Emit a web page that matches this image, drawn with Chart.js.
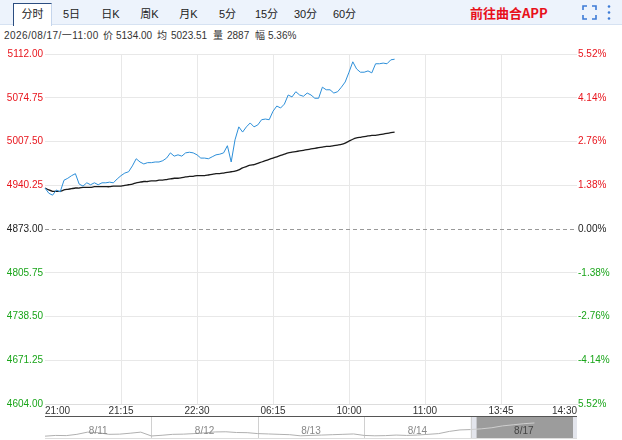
<!DOCTYPE html>
<html>
<head>
<meta charset="utf-8">
<script src="https://cdn.jsdelivr.net/npm/chart.js@4"></script>
<style>
  body { margin: 0; width: 622px; height: 440px; overflow: hidden; background: #fff;
         font-family: Arial, "Liberation Sans", "Noto Sans CJK SC", sans-serif; }
  #bar { position: absolute; left: 0; top: 0; width: 622px; height: 24px; background: #edf3fc;
         border-bottom: 1px solid #d6e2f2; }
  .tab { position: absolute; top: 3px; width: 39px; height: 22px; line-height: 22px; text-align: center;
         font-size: 11px; color: #222; }
  .tab.on { background: #fff; border: 1px solid #c5d5ec; border-top-color: #2b4d80; border-left-color: #2b4d80;
            border-bottom: none; box-sizing: border-box; height: 23px; line-height: 21px; }
  #app { position: absolute; left: 470px; top: 4px; font-size: 13px; font-weight: bold; color: #e8101a;
         font-family: "Noto Sans CJK SC", Arial, sans-serif; line-height: 18px; }
  #info span { position: absolute; top: 29px; font-size: 10px; line-height: 14px; color: #333; white-space: nowrap; }
  #main { position: absolute; left: 0; top: 44px; }
  #nav { position: absolute; left: 0; top: 416px; }
</style>
</head>
<body>
<div id="bar">
  <div class="tab on" style="left:13px">分时</div>
  <div class="tab" style="left:52px">5日</div>
  <div class="tab" style="left:91px">日K</div>
  <div class="tab" style="left:130px">周K</div>
  <div class="tab" style="left:169px">月K</div>
  <div class="tab" style="left:208px">5分</div>
  <div class="tab" style="left:247px">15分</div>
  <div class="tab" style="left:286px">30分</div>
  <div class="tab" style="left:325px">60分</div>
  <div id="app">前往曲合APP</div>
  <svg style="position:absolute;left:582px;top:5px" width="15" height="15">
    <path d="M1 5V1H5M10 1H14V5M14 10V14H10M5 14H1V10" fill="none" stroke="#3d7bd6" stroke-width="1.6"/>
  </svg>
  <svg style="position:absolute;left:606px;top:4px" width="6" height="18">
    <circle cx="3" cy="2.5" r="1.3" fill="#3d7bd6"/><circle cx="3" cy="8.5" r="1.3" fill="#3d7bd6"/>
    <circle cx="3" cy="14.5" r="1.3" fill="#3d7bd6"/>
  </svg>
</div>
<div id="info">
  <span style="left:4px;letter-spacing:0.45px">2026/08/17/一11:00</span>
  <span style="left:103px">价</span><span style="left:116px">5134.00</span>
  <span style="left:157px">均</span><span style="left:171px">5023.51</span>
  <span style="left:213px">量</span><span style="left:227px">2887</span>
  <span style="left:255px">幅</span><span style="left:268px">5.36%</span>
</div>
<canvas id="main" width="622" height="372"></canvas>
<canvas id="nav" width="622" height="24"></canvas>
<script>
const timeTicks = ['21:00', '21:15', '22:30', '06:15', '10:00', '11:00', '13:45', '14:30'];
const slotsPerTick = 20;

const priceValues = [
  4936, 4928, 4925, 4933, 4930, 4948, 4951, 4955, 4958, 4942,
  4939, 4944, 4941, 4944, 4941, 4944, 4944, 4945, 4944, 4950,
  4955, 4959, 4961, 4970, 4981, 4976, 4973, 4975, 4975, 4976,
  4976, 4978, 4982, 4990, 4985, 4987, 4985, 4990, 4991, 4990,
  4987, 4982, 4982, 4981, 4984, 4987, 4988, 4990, 5001, 4976,
  5010, 5030, 5022, 5030, 5036, 5030, 5033, 5041, 5042, 5041,
  5054, 5062, 5059, 5065, 5079, 5076, 5084, 5079, 5077, 5082,
  5079, 5074, 5074, 5091, 5087, 5087, 5082, 5084, 5091, 5099,
  5114, 5130, 5119, 5114, 5114, 5116, 5113, 5127, 5127, 5128,
  5127, 5133, 5134
];
const avgValues = [
  4936, 4933, 4931, 4931, 4931, 4933, 4934, 4935, 4936, 4936,
  4937, 4937, 4937, 4938, 4938, 4938, 4938, 4938, 4939, 4939,
  4939, 4940, 4941, 4942, 4944, 4945, 4946, 4946, 4947, 4947,
  4948, 4948, 4949, 4950, 4951, 4951, 4952, 4953, 4954, 4954,
  4955, 4955, 4955, 4956, 4957, 4958, 4958, 4959, 4960, 4961,
  4962, 4964, 4967, 4969, 4971, 4972, 4974, 4976, 4978, 4980,
  4982, 4984, 4986, 4988, 4990, 4991, 4992, 4993, 4994, 4995,
  4996, 4997, 4998, 4999, 5000, 5000, 5001, 5002, 5003, 5005,
  5008, 5011, 5013, 5014, 5015, 5016, 5017, 5017, 5018, 5019,
  5020, 5021, 5022
];

const baseValue = 4873;
const yTicks = [5142, 5074.75, 5007.5, 4940.25, 4873, 4805.75, 4738.5, 4671.25, 4604];
const leftLabels = ['5112.00', '5074.75', '5007.50', '4940.25', '4873.00', '4805.75', '4738.50', '4671.25', '4604.00'];
const rightLabels = ['5.52%', '4.14%', '2.76%', '1.38%', '0.00%', '-1.38%', '-2.76%', '-4.14%', '5.52%'];

const navDays = ['8/11', '8/12', '8/13', '8/14', '8/17'];
const navValues = [
  4650, 4670, 4665, 4700, 4760, 4745, 4700, 4705, 4730, 4760,
  4655, 4675, 4700, 4705, 4720, 4740, 4765, 4770, 4750, 4745,
  4720, 4710, 4700, 4690, 4660, 4670, 4680, 4690, 4700, 4710,
  4670, 4660, 4665, 4680, 4670, 4680, 4700, 4720, 4780, 4820,
  4830, 4850, 4880, 4930, 4960, 4990, 5010
];

const RED = '#e8141c', GREEN = '#1aa51a', DARK = '#222';
const GRID = '#e8e8e8';

Chart.defaults.font.family = 'Arial, "Liberation Sans", sans-serif';
Chart.defaults.font.size = 10;

const labels = [];
for (let i = 0; i <= slotsPerTick * (timeTicks.length - 1); i++) {
  labels.push(i % slotsPerTick === 0 ? timeTicks[i / slotsPerTick] : '');
}

function tickColor(ctx) {
  const v = ctx.tick.value;
  return v > baseValue ? RED : v < baseValue ? GREEN : DARK;
}

// dashed line at previous settle
const zeroLine = {
  id: 'zeroLine',
  beforeDatasetsDraw(chart) {
    const { ctx, chartArea } = chart;
    const y = chart.scales.y.getPixelForValue(baseValue);
    ctx.save();
    ctx.strokeStyle = '#999';
    ctx.lineWidth = 1;
    ctx.setLineDash([4, 3]);
    ctx.beginPath();
    ctx.moveTo(chartArea.left, Math.round(y) + 0.5);
    ctx.lineTo(chartArea.right, Math.round(y) + 0.5);
    ctx.stroke();
    ctx.restore();
  }
};

new Chart(document.getElementById('main'), {
  type: 'line',
  data: {
    labels: labels,
    datasets: [
      { data: priceValues, borderColor: '#2d8fd9', borderWidth: 1, pointRadius: 0, tension: 0, yAxisID: 'y' },
      { data: avgValues, borderColor: '#1a1a1a', borderWidth: 1.3, pointRadius: 0, tension: 0.2, yAxisID: 'y' }
    ]
  },
  options: {
    responsive: false,
    animation: false,
    layout: { padding: { top: 10, left: 0, right: 0, bottom: 0 } },
    plugins: { legend: { display: false }, tooltip: { enabled: false } },
    scales: {
      x: {
        type: 'category',
        afterBuildTicks: s => { s.ticks = s.ticks.filter(t => t.value % slotsPerTick === 0); },
        afterFit: s => { s.height = 12; },
        grid: {
          drawTicks: false,
          color: ctx => (ctx.index === 0 || ctx.index === timeTicks.length - 1) ? 'rgba(0,0,0,0)' : GRID
        },
        border: { display: true, color: '#ddd' },
        ticks: { autoSkip: false, maxRotation: 0, align: 'inner', padding: 1, color: '#333' }
      },
      y: {
        position: 'left',
        min: yTicks[yTicks.length - 1],
        max: yTicks[0],
        afterBuildTicks: s => { s.ticks = yTicks.slice().reverse().map(v => ({ value: v })); },
        afterFit: s => { s.width = 45; },
        grid: {
          drawTicks: false,
          color: ctx => ctx.tick && ctx.tick.value === baseValue ? 'rgba(0,0,0,0)' : GRID
        },
        border: { display: false },
        ticks: {
          padding: 2,
          color: tickColor,
          callback: v => leftLabels[yTicks.indexOf(v)]
        }
      },
      y2: {
        position: 'right',
        min: yTicks[yTicks.length - 1],
        max: yTicks[0],
        afterBuildTicks: s => { s.ticks = yTicks.slice().reverse().map(v => ({ value: v })); },
        afterFit: s => { s.width = 45; },
        grid: { display: false, drawTicks: false },
        border: { display: false },
        ticks: {
          padding: 1,
          color: tickColor,
          callback: v => rightLabels[yTicks.indexOf(v)]
        }
      }
    }
  },
  plugins: [zeroLine]
});

// navigator strip
const navLabels = [];
for (let i = 0; i <= navDays.length * 10; i++) navLabels.push(String(i));

const navDecor = {
  id: 'navDecor',
  beforeDatasetsDraw(chart) {
    const { ctx, chartArea } = chart;
    const xs = chart.scales.x;
    const hl = xs.getPixelForValue(40);
    ctx.save();
    // highlighted last day
    ctx.fillStyle = '#e3e5ec';
    ctx.fillRect(hl, chartArea.top, chartArea.right - hl, chartArea.bottom - chartArea.top);
    ctx.fillStyle = '#9c9c9c';
    ctx.fillRect(hl + 6, chartArea.top, chartArea.right - hl - 10, chartArea.bottom - chartArea.top);
    // day separators
    ctx.strokeStyle = '#d0d0d0';
    ctx.lineWidth = 1;
    for (let d = 1; d < navDays.length; d++) {
      const x = Math.round(xs.getPixelForValue(d * 10)) + 0.5;
      ctx.beginPath();
      ctx.moveTo(x, chartArea.top);
      ctx.lineTo(x, chartArea.bottom);
      ctx.stroke();
    }
    // frame
    ctx.strokeStyle = '#555';
    ctx.beginPath();
    ctx.moveTo(chartArea.left, chartArea.top + 0.5);
    ctx.lineTo(chartArea.right, chartArea.top + 0.5);
    ctx.stroke();
    ctx.strokeStyle = '#ddd';
    ctx.beginPath();
    ctx.moveTo(chartArea.left, chartArea.bottom + 0.5);
    ctx.lineTo(chartArea.right, chartArea.bottom + 0.5);
    ctx.stroke();
    ctx.restore();
  },
  afterDatasetsDraw(chart) {
    const { ctx, chartArea } = chart;
    const xs = chart.scales.x;
    ctx.save();
    ctx.font = '10px Arial, "Liberation Sans", sans-serif';
    ctx.textAlign = 'center';
    ctx.textBaseline = 'middle';
    navDays.forEach((d, i) => {
      const x = (xs.getPixelForValue(i * 10) + xs.getPixelForValue(i * 10 + 10)) / 2;
      ctx.fillStyle = i === navDays.length - 1 ? '#444' : '#888';
      ctx.fillText(d, x, chartArea.top + 15);
    });
    ctx.restore();
  }
};

new Chart(document.getElementById('nav'), {
  type: 'line',
  data: {
    labels: navLabels,
    datasets: [{
      data: navValues,
      borderColor: '#b0b0b0',
      borderWidth: 1,
      pointRadius: 0,
      segment: { borderColor: c => c.p0DataIndex >= 40 ? '#cfcfcf' : '#b0b0b0' }
    }]
  },
  options: {
    responsive: false,
    animation: false,
    layout: { padding: { left: 45, right: 45, top: 0, bottom: 2 } },
    plugins: { legend: { display: false }, tooltip: { enabled: false } },
    scales: {
      x: { display: false },
      y: { display: false, min: 4600, max: 5200 }
    }
  },
  plugins: [navDecor]
});
</script>
</body>
</html>
